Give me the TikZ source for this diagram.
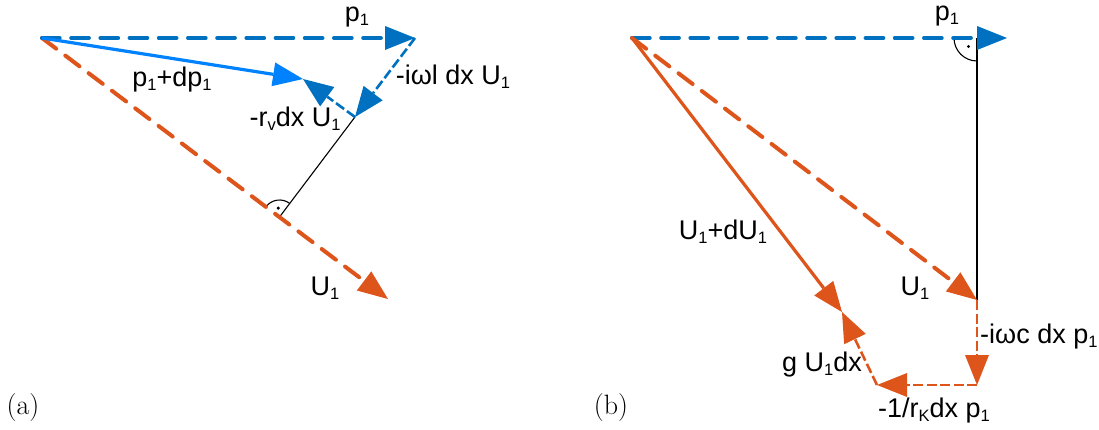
\documentclass[tikz,border=0pt]{standalone}
\usepackage{fontspec}
\newfontfamily\labfont{Liberation Sans}
\usetikzlibrary{arrows.meta}
\definecolor{bluedark}{RGB}{0,112,192}
\definecolor{bluelight}{RGB}{0,130,255}
\definecolor{orng}{RGB}{221,85,27}
\newcommand\sbs[1]{\raisebox{-4pt}{\fontsize{16.5}{16.5}\selectfont #1}}
\begin{document}
\begin{tikzpicture}[x=1pt,y=-1pt,
  tip/.style={-{Triangle[length=30pt,width=24pt,line width=0pt]}},
  thickdash/.style={line width=4pt, line cap=round, dash pattern=on 17.7pt off 11.5pt},
  thindash/.style={line width=2.6pt, dash pattern=on 10pt off 3.5pt},
  solidvec/.style={line width=3.2pt},
  lab/.style={font=\labfont\fontsize{27}{32}\selectfont, inner sep=0pt, anchor=base},
  panelcap/.style={font=\fontsize{28}{32}\selectfont, inner sep=0pt},
  perp/.style={line width=1.1pt, black}
]
\useasboundingbox (0,0) rectangle (1099,430);

% ---------- panel (a) ----------
\coordinate (Oa) at (42,38);
\coordinate (Pa) at (415,38);
\coordinate (Ua) at (388,299);
\coordinate (Qa) at (303,79);
\coordinate (Ra) at (355,117);
\coordinate (Fa) at (279.5,217);

\draw[perp] (Ra) -- (Fa);
\draw[perp] (Fa) ++(53.1:17pt) arc[start angle=53.1, end angle=142.9, radius=17pt];
\fill (Fa) ++(98:9pt) circle[radius=1.7pt];

\draw[thickdash, orng, tip] (Oa) -- (Ua);
\draw[thickdash, bluedark, tip] (Oa) -- (Pa);
\draw[solidvec, bluelight, tip] (Oa) -- (Qa);
\draw[thindash, bluedark, tip] (Pa) -- (Ra);
\draw[thindash, bluedark, tip] (Ra) -- (Qa);

\node[lab] (lp1a) at (357,22) {p\sbs{1}};
\node[lab] (lpdp) at (172,87) {p\sbs{1}+dp\sbs{1}};
\node[lab] (liwl) at (453,85) {-iωl dx U\sbs{1}};
\node[lab] (lrv) at (295,127) {-r\sbs{v}dx U\sbs{1}};
\node[lab] (lu1a) at (325,295) {U\sbs{1}};
\node[panelcap] (ca) at (23,408) {(a)};

% ---------- panel (b) ----------
\coordinate (Ob) at (632,38);
\coordinate (Pb) at (1007,38);
\coordinate (Hb) at (977,38);
\coordinate (Ub) at (977,300);
\coordinate (Cb) at (977,385);
\coordinate (Db) at (877,385);
\coordinate (Gb) at (842,312);

\draw[perp] (Hb) -- (Ub);
\draw[perp] (Hb) ++(180:23pt) arc[start angle=180, end angle=270, radius=23pt];
\fill (Hb) ++(225:12pt) circle[radius=1.7pt];

\draw[thickdash, bluedark, tip] (Ob) -- (Pb);
\draw[thickdash, orng, tip] (Ob) -- (Ub);
\draw[solidvec, orng, tip] (Ob) -- (Gb);
\draw[thindash, orng, tip] (Ub) -- (Cb);
\draw[thindash, orng, tip] (Cb) -- (Db);
\draw[thindash, orng, tip] (Db) -- (Gb);

\node[lab] (lp1b) at (947,21) {p\sbs{1}};
\node[lab] (ludu) at (723,240) {U\sbs{1}+dU\sbs{1}};
\node[lab] (lu1b) at (915,295) {U\sbs{1}};
\node[lab, anchor=base west] (liwc) at (980,343) {-iωc dx p\sbs{1}};
\node[lab] (lgu) at (822,371) {g U\sbs{1}dx};
\node[lab] (lrk) at (934,417) {-1/r\sbs{K}dx p\sbs{1}};
\node[panelcap] (cb) at (611,408) {(b)};
\end{tikzpicture}
\end{document}
